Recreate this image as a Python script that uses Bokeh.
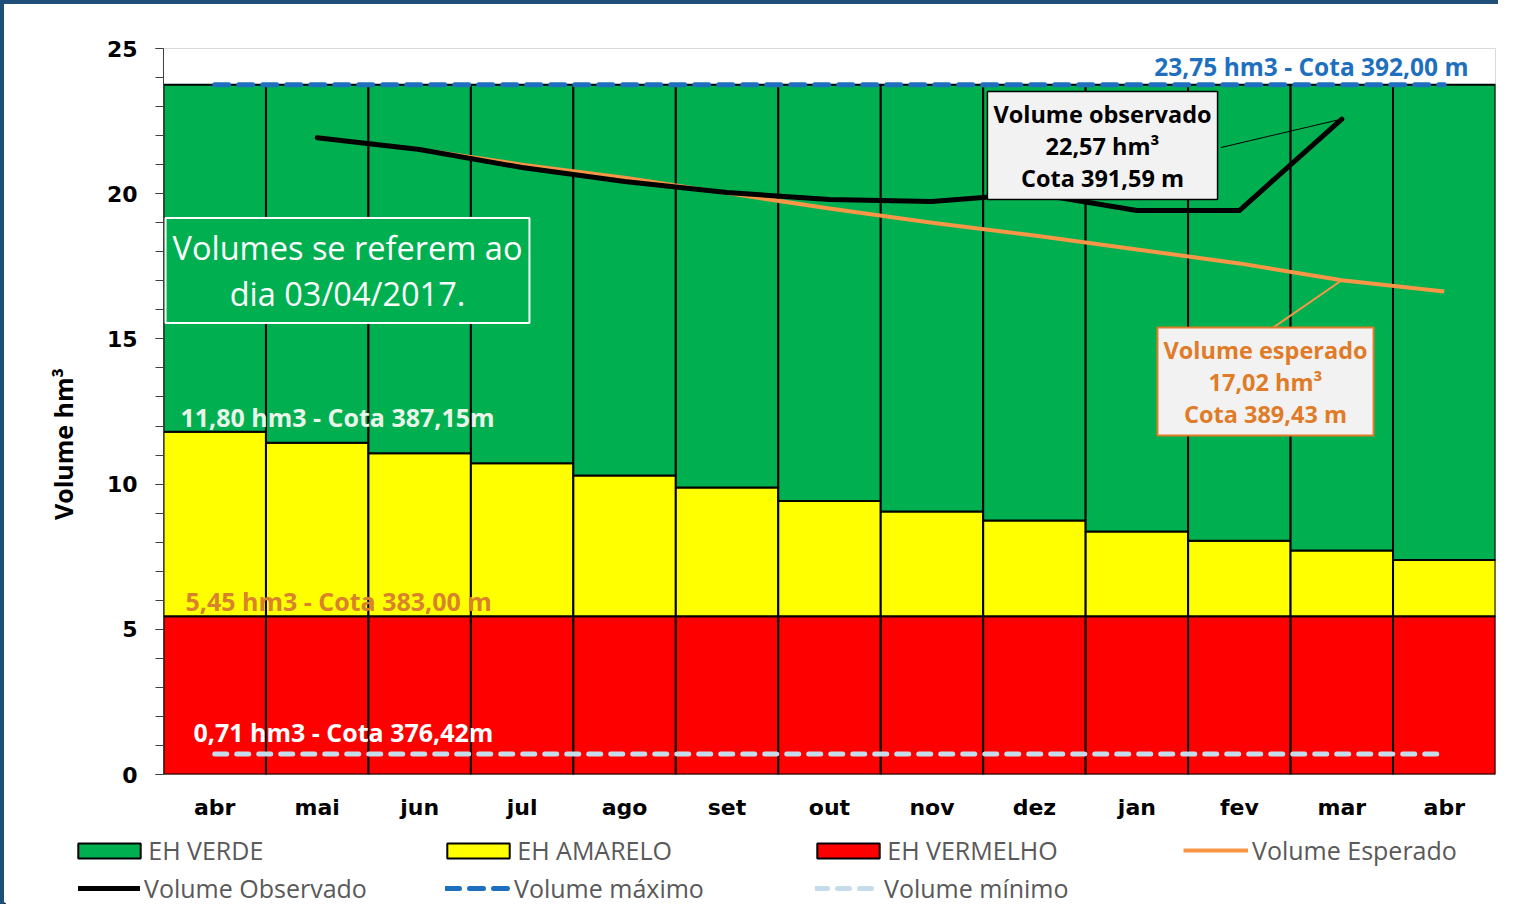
from bokeh.plotting import figure
from bokeh.layouts import column
from bokeh.models import (Range1d, FixedTicker, SingleIntervalTicker, Label, Legend,
                          LegendItem, ColumnDataSource)
from bokeh.embed import file_html
from bokeh.resources import INLINE

# ---------------- data ----------------
months = ["abr", "mai", "jun", "jul", "ago", "set", "out", "nov", "dez", "jan", "fev", "mar", "abr"]
limite_vermelho = 5.45
topo_amarelo = [11.80, 11.42, 11.06, 10.72, 10.30, 9.88, 9.42, 9.06, 8.75, 8.37, 8.05, 7.71, 7.39]
topo_verde = 23.75
volume_observado = [None, 21.93, 21.52, 20.90, 20.42, 20.04, 19.80, 19.73, 20.01, 19.42, 19.42, 22.57, None]
volume_esperado = [None, 21.93, 21.52, 21.00, 20.55, 20.02, 19.49, 19.00, 18.56, 18.08, 17.60, 17.02, 16.63]
volume_maximo = 23.75
volume_minimo = 0.71

idx = list(range(len(months)))

# ---------------- styles ----------------
BORDER = 4                  # blue frame (left/top) of the whole picture
FL, FT, FR, FB = 163, 48, 1495, 774   # plot frame in picture pixels
W = 1494
H1 = 819
H2 = 81

S_GREEN = dict(fill_color="#00B050", line_color="black", line_width=2)
S_YELLOW = dict(fill_color="#FFFF00", line_color="black", line_width=2)
S_RED = dict(fill_color="#FF0000", line_color="black", line_width=2)
S_MAX = dict(line_color="#1F6FBF", line_width=5, line_dash="14 10", line_cap="round")
S_MIN = dict(line_color="#C5DCEB", line_width=5, line_dash="12 10", line_cap="round")
S_ESP = dict(line_color="#F79646", line_width=4, line_join="round")
S_OBS = dict(line_color="black", line_width=5, line_join="round", line_cap="round")


def sx(px):
    return px - FL


def sy(py):
    return FB - py


p = figure(width=W, height=H1, output_backend="svg", toolbar_location=None,
           x_range=Range1d(-0.5, 12.5), y_range=Range1d(0, 25),
           min_border_left=FL - BORDER, min_border_right=BORDER + W - FR,
           min_border_top=FT - BORDER, min_border_bottom=H1 - (FB - BORDER))
p.frame_align = False
p.background_fill_color = "white"
p.border_fill_color = "white"
p.outline_line_color = "#D9D9D9"
p.xgrid.visible = False
p.ygrid.visible = False

src = ColumnDataSource(dict(
    x=idx,
    red_top=[limite_vermelho] * len(idx),
    yellow_top=topo_amarelo,
    green_top=[topo_verde] * len(idx),
))

p.vbar(x="x", bottom=0, top="red_top", width=1, source=src, **S_RED)
p.vbar(x="x", bottom="red_top", top="yellow_top", width=1, source=src, **S_YELLOW)
p.vbar(x="x", bottom="yellow_top", top="green_top", width=1, source=src, **S_GREEN)

p.line(x=[idx[0], idx[-1]], y=[volume_maximo] * 2, **S_MAX)
p.line(x=[idx[0], idx[-1]], y=[volume_minimo] * 2, **S_MIN)

esp_x = [i for i, v in zip(idx, volume_esperado) if v is not None]
esp_y = [v for v in volume_esperado if v is not None]
obs_x = [i for i, v in zip(idx, volume_observado) if v is not None]
obs_y = [v for v in volume_observado if v is not None]

p.line(x=esp_x, y=esp_y, **S_ESP)
p.line(x=obs_x, y=obs_y, **S_OBS)

# leader lines for the callouts (box side -> last data point)
p.segment(x0=[9.82], y0=[21.59], x1=[obs_x[-1]], y1=[obs_y[-1]],
          line_color="black", line_width=1)
p.segment(x0=[10.29], y0=[15.29], x1=[esp_x[-2]], y1=[esp_y[-2]],
          line_color="#F79646", line_width=2)

# ---------------- axes ----------------
yax = p.yaxis[0]
yax.ticker = SingleIntervalTicker(interval=5, num_minor_ticks=5)
yax.major_label_text_font = "DejaVu Sans"
yax.major_label_text_font_style = "bold"
yax.major_label_text_font_size = "22px"
yax.major_label_text_color = "black"
yax.major_tick_in = 0
yax.major_tick_out = 8
yax.minor_tick_in = 0
yax.minor_tick_out = 8
yax.axis_line_color = "#404040"
yax.major_tick_line_color = "#404040"
yax.minor_tick_line_color = "#404040"
yax.major_label_standoff = 18
yax.axis_label = "Volume hm³" + "\u00a0" * 10
yax.axis_label_text_font = "Open Sans"
yax.axis_label_text_font_style = "bold"
yax.axis_label_text_font_size = "25px"
yax.axis_label_text_color = "black"
yax.axis_label_standoff = 24

xax = p.xaxis[0]
xax.ticker = FixedTicker(ticks=idx)
xax.major_label_overrides = {i: m for i, m in zip(idx, months)}
xax.major_label_text_font = "DejaVu Sans"
xax.major_label_text_font_style = "bold"
xax.major_label_text_font_size = "22px"
xax.major_label_text_color = "black"
xax.major_tick_in = 0
xax.major_tick_out = 0
xax.minor_tick_in = 0
xax.minor_tick_out = 0
xax.axis_line_color = None
xax.major_label_standoff = 20


# ---------------- annotations ----------------
def lab(text, px, py, color, size="25px", align="left", style="bold", **kw):
    l = Label(x=sx(px), y=sy(py), x_units="screen", y_units="screen", text=text,
              text_align=align, text_baseline="middle", text_font="Open Sans",
              text_font_style=style, text_font_size=size, text_color=color, **kw)
    p.add_layout(l)
    return l


lab("23,75 hm3 - Cota 392,00 m", 1468, 66, "#1F6FBF", size="24.5px", align="right")
lab("11,80 hm3 - Cota 387,15m", 180, 416, "#EAF5EA")
lab("5,45 hm3 - Cota 383,00 m", 185, 600, "#D9822B")
lab("0,71 hm3 - Cota 376,42m", 193, 731, "white")

lab("Volumes se referem ao\ndia 03/04/2017.", 347, 270, "white", size="32.5px",
    align="center", style="normal", text_line_height=1.02,
    background_fill_color="#00B050", border_line_color="white", border_line_width=2,
    padding=7)

lab("Volume observado\n22,57 hm³\nCota 391,59 m", 1102, 145, "black", size="23.5px",
    align="center", text_line_height=1.0, background_fill_color="#F2F2F2",
    border_line_color="black", border_line_width=1.5, padding=6)

lab("Volume esperado\n17,02 hm³\nCota 389,43 m", 1265, 381, "#E07B28", size="23.5px",
    align="center", text_line_height=1.0, background_fill_color="#F2F2F2",
    border_line_color="#E07B28", border_line_width=2, padding=6)

# ---------------- legend (separate strip below the chart) ----------------
p2 = figure(width=W, height=H2, output_backend="svg", toolbar_location=None,
            x_range=Range1d(0, W), y_range=Range1d(0, H2),
            min_border=0, x_axis_location=None, y_axis_location=None)
p2.frame_align = False
p2.outline_line_color = None
p2.xgrid.visible = False
p2.ygrid.visible = False
p2.background_fill_color = "white"
p2.border_fill_color = "white"

# legend-only renderers (their single point lies outside the strip's range)
off = dict(x=[-50], top=[1], bottom=[0], width=1)
lg_green = p2.vbar(**off, **S_GREEN)
lg_yellow = p2.vbar(**off, **S_YELLOW)
lg_red = p2.vbar(**off, **S_RED)
lg_esp = p2.line(x=[-60, -50], y=[1, 1], **S_ESP)
lg_obs = p2.line(x=[-60, -50], y=[1, 1], **S_OBS)
lg_max = p2.line(x=[-60, -50], y=[1, 1], **S_MAX)
lg_min = p2.line(x=[-60, -50], y=[1, 1], **S_MIN)

# (label, renderer, glyph left, row centre, visible glyph width, is_patch, standoff)
legend_entries = [
    ("EH VERDE", lg_green, 78, 852, 62, True, 0),
    ("EH AMARELO", lg_yellow, 447, 852, 62, True, 0),
    ("EH VERMELHO", lg_red, 817, 852, 62, True, 0),
    ("Volume Esperado", lg_esp, 1183, 852, 65, False, 4),
    ("Volume Observado", lg_obs, 78, 890, 62, False, 4),
    ("Volume máximo", lg_max, 445, 890, 65, False, 4),
    ("Volume mínimo", lg_min, 815, 890, 63, False, 6),
]
ITEM_H = 30
top2 = H1 + BORDER
for name, rend, gx, yc, gw, patch, standoff in legend_entries:
    if patch:           # area glyphs are drawn at 80% of the glyph box
        box_w, box_h = gw / 0.8, 15 / 0.8
        left = gx - (box_w - gw) / 2
    else:
        box_w, box_h = gw, 16
        left = gx
    lg = Legend(items=[LegendItem(label=name, renderers=[rend])],
                location=(left - BORDER, H2 - (yc - top2) - ITEM_H / 2),
                orientation="horizontal",
                glyph_width=int(round(box_w)), glyph_height=int(round(box_h)),
                label_standoff=standoff, padding=0, margin=0, spacing=0,
                label_height=ITEM_H, border_line_color=None, background_fill_alpha=0,
                label_text_font="Open Sans", label_text_font_size="25px",
                label_text_color="#595959")
    p2.add_layout(lg)

layout = column(p, p2, spacing=0,
                styles={"border-left": f"{BORDER}px solid #1F4E79",
                        "border-top": f"{BORDER}px solid #1F4E79"})

open("out.html", "w").write(file_html(layout, INLINE))
